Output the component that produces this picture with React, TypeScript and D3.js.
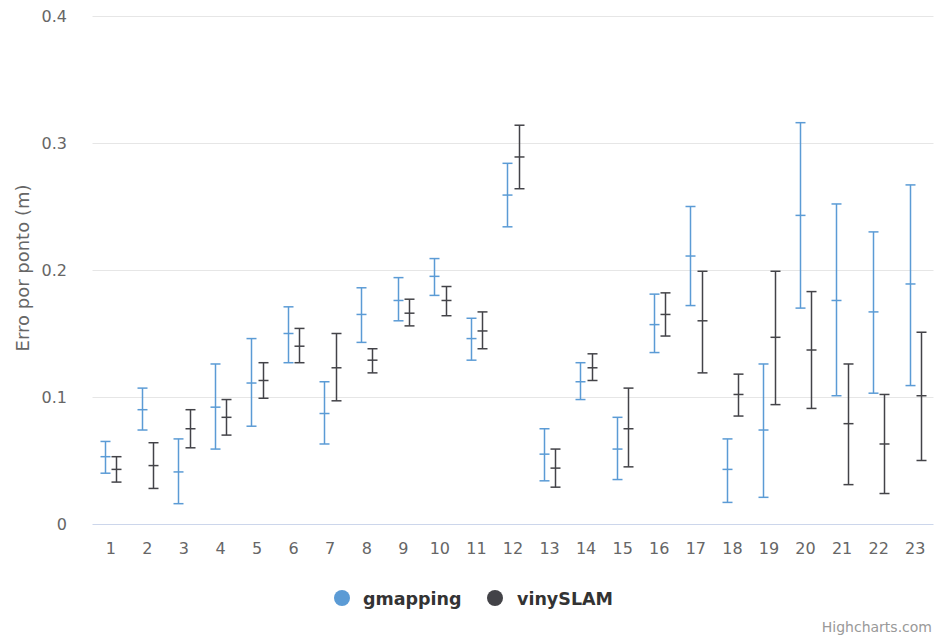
import React from "react";
import * as d3 from "d3";

const categories = ["1","2","3","4","5","6","7","8","9","10","11","12","13","14","15","16","17","18","19","20","21","22","23"];
const seriesNames = ["gmapping", "vinySLAM"];
const seriesColors = ["#5B9BD5", "#434348"];

const gmappingLow =  [0.040,0.074,0.016,0.059,0.077,0.127,0.063,0.143,0.160,0.180,0.129,0.234,0.034,0.098,0.035,0.135,0.172,0.017,0.021,0.170,0.101,0.103,0.109];
const gmappingMean = [0.053,0.090,0.041,0.092,0.111,0.150,0.087,0.165,0.176,0.195,0.146,0.259,0.055,0.112,0.059,0.157,0.211,0.043,0.074,0.243,0.176,0.167,0.189];
const gmappingHigh = [0.065,0.107,0.067,0.126,0.146,0.171,0.112,0.186,0.194,0.209,0.162,0.284,0.075,0.127,0.084,0.181,0.250,0.067,0.126,0.316,0.252,0.230,0.267];

const vinyLow =  [0.033,0.028,0.060,0.070,0.099,0.127,0.097,0.119,0.156,0.164,0.138,0.264,0.029,0.113,0.045,0.148,0.119,0.085,0.094,0.091,0.031,0.024,0.050];
const vinyMean = [0.043,0.046,0.075,0.084,0.113,0.140,0.123,0.129,0.166,0.176,0.152,0.289,0.044,0.123,0.075,0.165,0.160,0.102,0.147,0.137,0.079,0.063,0.101];
const vinyHigh = [0.053,0.064,0.090,0.098,0.127,0.154,0.150,0.138,0.177,0.187,0.167,0.314,0.059,0.134,0.107,0.182,0.199,0.118,0.199,0.183,0.126,0.102,0.151];

const yTicks = [0, 0.1, 0.2, 0.3, 0.4];

const FONT = "'DejaVu Sans', Verdana, sans-serif";

export default function App() {
  const W = 936, H = 637;
  const left = 92.5, right = 933.5, top = 16, bottom = 524;
  const x = d3.scaleBand<string>().domain(categories).range([left, right]).paddingInner(0).paddingOuter(0);
  const xs = d3.scaleBand<string>().domain(seriesNames).range([0, x.bandwidth()]).paddingInner(0).paddingOuter(0.6);
  const y = d3.scaleLinear().domain([0, 0.4]).range([bottom, top]);

  const data = [
    { name: seriesNames[0], color: seriesColors[0], low: gmappingLow, mean: gmappingMean, high: gmappingHigh },
    { name: seriesNames[1], color: seriesColors[1], low: vinyLow, mean: vinyMean, high: vinyHigh },
  ];
  const half = 5;

  return (
    <svg width={W} height={H} style={{ position: "absolute", left: 0, top: 0, fontFamily: FONT }}>
      <rect width={W} height={H} fill="#fff" />
      {yTicks.map((t) => (
        <g key={t}>
          {t !== 0 && (
            <line x1={left} x2={right} y1={Math.round(y(t)) + 0.5} y2={Math.round(y(t)) + 0.5} stroke="#e6e6e6" strokeWidth={1} />
          )}
          <text x={67} y={y(t) + 5.5} textAnchor="end" fontSize={16} fill="#666">{t === 0 ? "0" : t.toFixed(1)}</text>
        </g>
      ))}
      <line x1={left} x2={right} y1={bottom + 0.5} y2={bottom + 0.5} stroke="#ccd6eb" strokeWidth={1} />
      {categories.map((c) => (
        <text key={c} x={x(c)! + x.bandwidth() / 2} y={554} textAnchor="middle" fontSize={16} fill="#666">{c}</text>
      ))}
      <text transform={`translate(29,${(top + bottom) / 2 - 2}) rotate(-90)`} textAnchor="middle" fontSize={18} fill="#666">Erro por ponto (m)</text>

      {data.map((s) => (
        <g key={s.name} stroke={s.color} strokeWidth={1.5} fill="none">
          {categories.map((c, i) => {
            const cx = Math.round(x(c)! + xs(s.name)! + xs.bandwidth() / 2) + 0.5;
            const yl = y(s.low[i]), ym = y(s.mean[i]), yh = y(s.high[i]);
            return (
              <g key={c}>
                <line x1={cx} x2={cx} y1={yh} y2={yl} />
                <line x1={cx - half} x2={cx + half} y1={yh} y2={yh} />
                <line x1={cx - half} x2={cx + half} y1={yl} y2={yl} />
                <line x1={cx - half} x2={cx + half} y1={ym} y2={ym} />
              </g>
            );
          })}
        </g>
      ))}

      <g>
        <circle cx={342} cy={598} r={8} fill={seriesColors[0]} />
        <text x={363} y={605} fontSize={17.5} fontWeight="bold" fill="#333">{seriesNames[0]}</text>
        <circle cx={495} cy={598} r={8} fill={seriesColors[1]} />
        <text x={517} y={605} fontSize={17.5} fontWeight="bold" fill="#333">{seriesNames[1]}</text>
      </g>
      <text x={932} y={632} textAnchor="end" fontSize={14} fill="#999">Highcharts.com</text>
    </svg>
  );
}
